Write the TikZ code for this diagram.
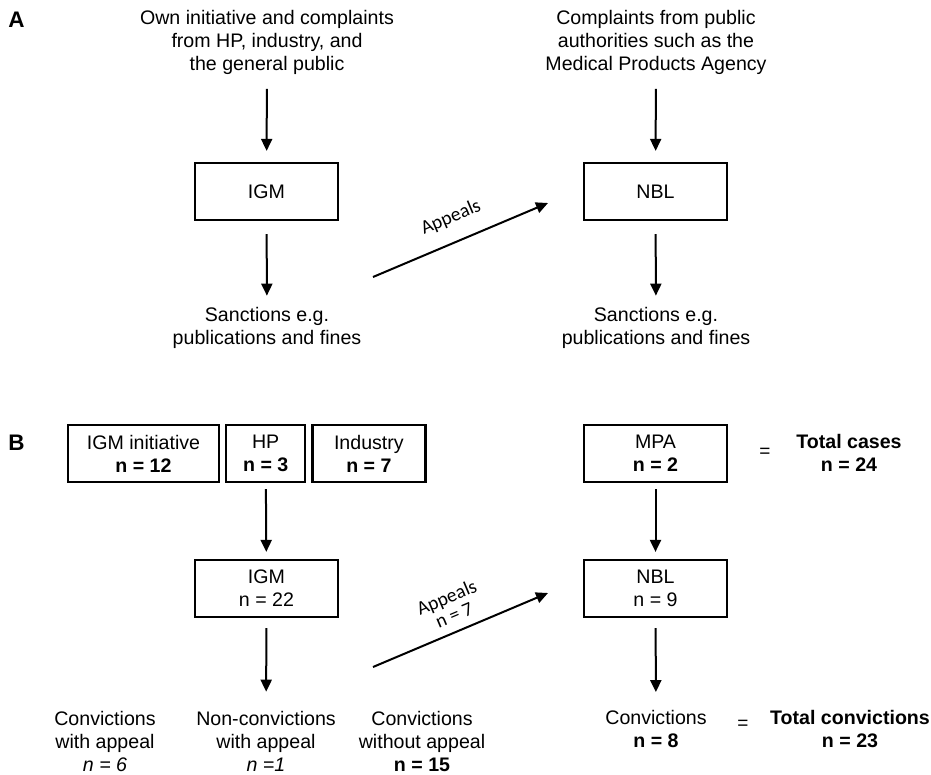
\documentclass[tikz,border=0pt]{standalone}
\usepackage{fontspec}
\setmainfont{Liberation Sans}
\newfontfamily\appealfont{Carlito}
\usetikzlibrary{positioning}
\usetikzlibrary{arrows.meta}
\tikzset{
    every picture/.style={>={Triangle[length=12pt,width=11pt]},x=1pt,y=-1pt},
    box/.style={draw,line width=2.2pt,minimum width=143pt,minimum height=57pt,inner sep=0pt,align=center,font=\fontsize{19.6}{23}\selectfont},
    txt/.style={inner sep=0pt,align=center,font=\fontsize{19.6}{23}\selectfont},
    panel/.style={inner sep=0pt,font=\fontsize{22.5}{23}\selectfont\bfseries},
    eqsign/.style={inner sep=0pt,font=\fontsize{19}{20}\selectfont},
    flow/.style={->,line width=2pt},
    appeal/.style={sloped,midway,align=center,inner sep=0pt,font=\appealfont\fontsize{19.5}{19}\selectfont},
}
\begin{document}
\begin{tikzpicture}
\useasboundingbox (0,0) rectangle (931,774);

% panel A
\node[panel] (labA) at (16.5,20) {A};
\node[txt] (srcA) at (267,42.5) {Own initiative and complaints\\from HP, industry, and\\the general public};
\node[box] (igmA) at (266.5,191.5) {IGM};
\node[txt] (sanA) at (267,327.5) {Sanctions e.g.\\publications and fines};

\node[txt] (srcN) at (656,42.5) {Complaints from public\\authorities such as the\\Medical Products Agency};
\node[box] (nblA) at (655.5,191.5) {NBL};
\node[txt] (sanN) at (656,327.5) {Sanctions e.g.\\publications and fines};

\draw[flow,shorten <=14pt,shorten >=11pt] (srcA) -- (igmA);
\draw[flow,shorten <=13pt,shorten >=11pt] (igmA) -- (sanA);
\draw[flow,shorten <=14pt,shorten >=11pt] (srcN) -- (nblA);
\draw[flow,shorten <=13pt,shorten >=11pt] (nblA) -- (sanN);

\coordinate (apA1) at (373,277);
\coordinate (apA2) at (548,203);
\draw[flow] (apA1) -- node[appeal,above=15pt] {Appeals} (apA2);

% panel B
\node[panel] (labB) at (16.5,443) {B};
\node[box,minimum width=151pt] (initB) at (143.5,453.5) {IGM initiative\\\textbf{n = 12}};
\node[box,minimum width=79pt,right=5pt of initB] (hpB) {HP\\\textbf{n = 3}};
\node[box,minimum width=113pt,right=5pt of hpB] (indB) {Industry\\\textbf{n = 7}};
\node[box] (igmB) at (266.5,588.5) {IGM\\n = 22};

\node[txt] (cwaB) at (105,741) {Convictions\\with appeal\\\textit{n = 6}};
\node[txt] (ncwB) at (266,741) {Non-convictions\\with appeal\\\textit{n =1}};
\node[txt] (cwoB) at (422,741) {Convictions\\without appeal\\\textbf{n = 15}};

\node[box] (mpaB) at (655.5,453.5) {MPA\\\textbf{n = 2}};
\node[eqsign] (eqA) at (765,453) {=};
\node[txt,font=\fontsize{19.6}{23}\selectfont\bfseries] (totA) at (849,452.5) {Total cases\\n = 24};
\node[box] (nblB) at (655.5,588.5) {NBL\\n = 9};
\node[txt] (conB) at (656,729) {Convictions\\\textbf{n = 8}};
\node[eqsign] (eqB) at (743,725) {=};
\node[txt,font=\fontsize{19.6}{23}\selectfont\bfseries] (totB) at (850,729) {Total convictions\\n = 23};

\draw[flow,shorten <=6pt,shorten >=7pt] (hpB) -- (igmB);
\draw[flow,shorten <=10pt,shorten >=19pt] (igmB) -- (ncwB);
\draw[flow,shorten <=6pt,shorten >=7pt] (mpaB) -- (nblB);
\draw[flow,shorten <=10pt,shorten >=18pt] (nblB) -- (conB);

\coordinate (apB1) at (373,667);
\coordinate (apB2) at (548,593);
\draw[flow] (apB1) -- node[appeal,above=9pt] {Appeals\\n = 7} (apB2);

\end{tikzpicture}
\end{document}
